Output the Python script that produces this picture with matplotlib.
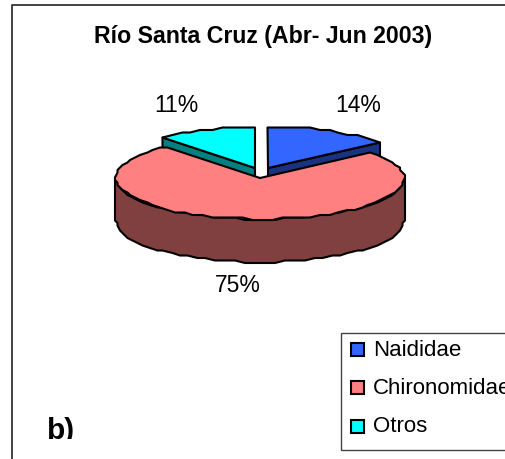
import numpy as np
import matplotlib
matplotlib.use("Agg")
import matplotlib.pyplot as plt
from matplotlib.patches import Polygon, Rectangle

title = "Río Santa Cruz (Abr- Jun 2003)"
panel = "b)"
categories = ["Naididae", "Chironomidae", "Otros"]
values = [14, 75, 11]
labels = ["14%", "75%", "11%"]

top_colors = ["#3366FF", "#FF8080", "#00FFFF"]
side_colors = ["#1A3380", "#804040", "#008080"]

# pie geometry in pixels
centers = [(268, 168), (260, 178), (255, 168)]
label_pos = [(358, 106), (238, 285), (176, 106)]
rx, ry, depth = 144, 41, 43
step = 4

plt.rcParams["font.family"] = ["Liberation Sans", "DejaVu Sans"]

fig = plt.figure(figsize=(5.05, 4.59), dpi=100)
ax = fig.add_axes([0, 0, 1, 1])
ax.set_xlim(0, 505)
ax.set_ylim(459, 0)
ax.axis("off")


def arc(center, a0, a1):
    # angles clockwise from twelve o'clock, in degrees
    n = max(2, int(abs(a1 - a0) / step) + 1)
    t = np.radians(np.linspace(a0, a1, n))
    pts = np.column_stack([center[0] + rx * np.sin(t), center[1] - ry * np.cos(t)])
    # the original outline is stepped, snap it to a coarse grid
    return np.round(pts / 2.5) * 2.5


def draw_poly(pts, color, z):
    ax.add_patch(Polygon(pts, closed=True, facecolor=color, edgecolor="black",
                         linewidth=1.5, joinstyle="round", zorder=z))


# frame of the chart area
ax.plot([12, 12, 505], [459, 5, 5], color="#222222", lw=1.2, zorder=1)

edges = np.cumsum([0] + values) * 3.6
down = np.array([0, depth])

# sides of the exploded wedges go first, the big wedge covers them
for i in [0, 2]:
    c = np.array(centers[i])
    a = edges[i + 1] if i == 0 else edges[i]
    tip = arc(c, a, a)[0]
    draw_poly([c, tip, tip + down, c + down], side_colors[i], 2)

# big wedge: outer wall then top
wall = arc(centers[1], 90, 270)
draw_poly(np.vstack([wall, (wall + down)[::-1]]), side_colors[1], 3)
draw_poly(np.vstack([[centers[1]], arc(centers[1], edges[1], edges[2])]), top_colors[1], 4)

for i in [0, 2]:
    draw_poly(np.vstack([[centers[i]], arc(centers[i], edges[i], edges[i + 1])]), top_colors[i], 5)

for lab, pos in zip(labels, label_pos):
    ax.text(pos[0], pos[1], lab, fontsize=16.5, ha="center", va="center", color="black")

ax.text(263, 37, title, fontsize=16.7, fontweight="bold", ha="center", va="center")

# panel letter is cut off at the bottom in the original
clip = Rectangle((0, 0), 505, 439, transform=ax.transData)
t = ax.text(47, 439, panel, fontsize=21.5, fontweight="bold", ha="left", va="baseline")
t.set_clip_path(clip)
t.set_clip_on(True)

# legend box runs off the right edge
ax.add_patch(Rectangle((341, 333), 200, 117, facecolor="white", edgecolor="#444444",
                       linewidth=1.0, zorder=6))
for name, color, y in zip(categories, top_colors, [349, 387, 426]):
    ax.add_patch(Rectangle((351, y - 6.5), 13, 13, facecolor=color, edgecolor="black",
                           linewidth=1.5, zorder=7))
    ax.text(373, y + 1, name, fontsize=16, ha="left", va="center", zorder=7)

fig.savefig("out.png", dpi=100)
